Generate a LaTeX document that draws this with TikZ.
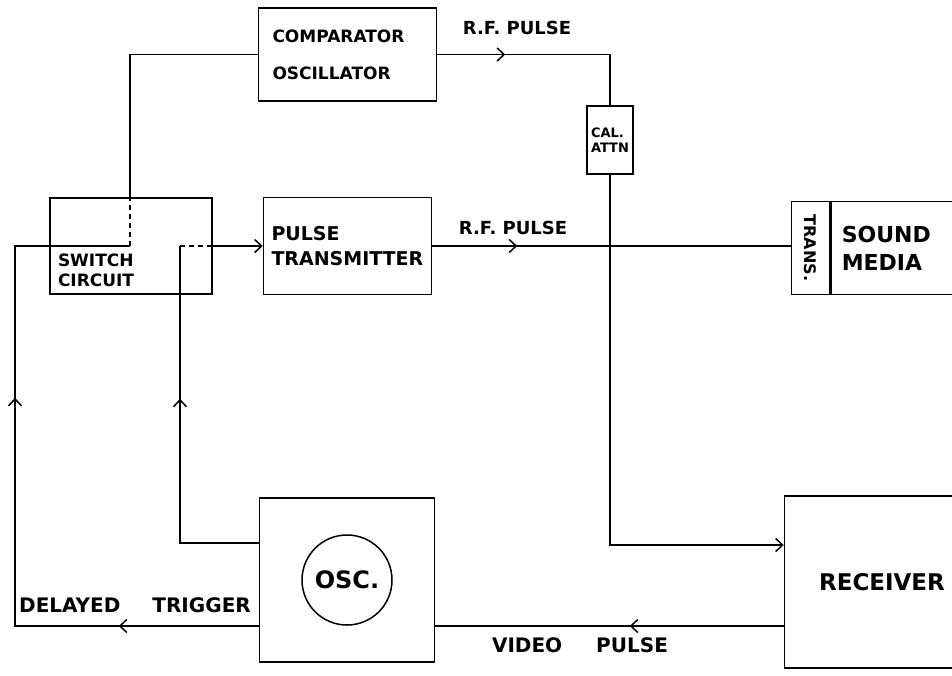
\documentclass[tikz,border=0pt]{standalone}
\usepackage{fontspec}
\usepackage{graphicx}
\setmainfont{DejaVu Sans}
\usetikzlibrary{arrows.meta, positioning, decorations.markings}

\begin{document}
\begin{tikzpicture}[
      x=1pt, y=-1pt, line width=1.5pt,
      box/.style={rectangle, draw, line width=1.5pt, align=left},
      txt/.style={font=\bfseries\fontsize{#1}{#1}\selectfont},
      tip/.style={-{Straight Barb[length=7pt, width=13pt]}},
      dashline/.style={dash pattern=on 5pt off 4pt},
      midarrow/.style={postaction={decorate, decoration={markings, mark=at position #1 with {\arrow{Straight Barb[length=7pt, width=13pt]}}}}}
    ]
    \clip (0,0) rectangle (952,675);

    \node[box, minimum width=162, minimum height=96] (sw) at (131,246) {};
    \node[txt=17, anchor=south west, align=left, inner sep=0pt] (swtext) at ([shift={(8pt,7pt)}]sw.south west) {SWITCH\\[3pt]CIRCUIT};
    \node[box, txt=19, minimum width=168, minimum height=97, text width=152, inner xsep=8pt, right=50pt of sw] (pt) {PULSE\\[6pt]TRANSMITTER};
    \node[box, txt=17, minimum width=178, minimum height=93, text width=150, inner xsep=14pt, above=95pt of pt] (comp) {COMPARATOR\\[20pt]OSCILLATOR};
    \node[box, txt=13, minimum width=46, minimum height=68, inner sep=1pt] (cal) at (610,140) {CAL.\\[2pt]ATTN};
    \node[box, txt=22, minimum width=150, minimum height=93, text width=128, inner xsep=11pt, anchor=west] (media) at (830,248) {SOUND\\[6pt]MEDIA};
    \node[box, txt=16, minimum width=38, minimum height=93, left=0pt of media] (trans) {\rotatebox{-90}{TRANS.}};
    \node[box, txt=23, minimum width=195, minimum height=172] (rec) at (882,582) {RECEIVER};
    \node[box, minimum width=175, minimum height=164] (osc) at (347,580) {};
    \node[circle, draw, txt=24, minimum size=90, inner sep=0pt] (scope) at (osc.center) {OSC.};

    \node[txt=18] (rf1) at (517,28) {R.F. PULSE};
    \node[txt=18] (rf2) at (513,228) {R.F. PULSE};
    \node[txt=20] (dlylbl) at (135,605) {DELAYED\hspace{32pt}TRIGGER};
    \node[txt=20] (vidlbl) at (580,645) {VIDEO\hspace{34pt}PULSE};

    \coordinate (vid) at ([yshift=-44pt]rec.west);
    \coordinate (dly) at (osc.west |- vid);
    \coordinate (swA) at (130,246);
    \coordinate (swB) at (180,246);

    \draw[midarrow=68pt] (comp.east) -- (comp.east -| cal.north) -- (cal.north);
    \draw[tip] (cal.south) |- ([yshift=37pt]rec.west);
    \draw[midarrow=85pt] (pt.east) -- (trans.west |- pt.east);
    \draw[midarrow=154pt] (vid) -- (vid -| osc.east);
    \draw[midarrow=140pt, midarrow=472pt] (dly) -- (15,0 |- dly) |- (swA);
    \draw[dashline] (swA) -- (swA |- sw.north);
    \draw (swA |- sw.north) |- (comp.west);
    \draw[midarrow=223pt] ([yshift=37pt]osc.west) -| (swB);
    \draw[dashline] (swB) -- (swB -| sw.east);
    \draw[tip] (swB -| sw.east) -- (pt.west);
  \end{tikzpicture}
\end{document}
